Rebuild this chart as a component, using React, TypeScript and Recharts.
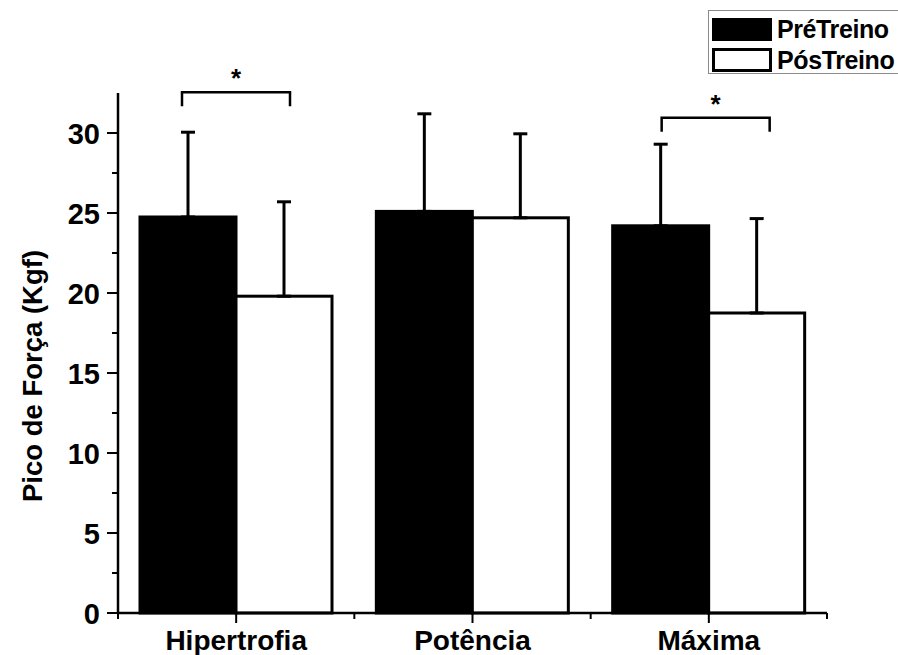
import React from 'react';
import { BarChart, Bar, XAxis, YAxis, ErrorBar, Legend, Label } from 'recharts';

const categories = ['Hipertrofia', 'Potência', 'Máxima'];
const seriesNames = ['PréTreino', 'PósTreino'];
const preValues = [24.75, 25.1, 24.2];
const postValues = [19.8, 24.7, 18.75];
const preErrors = [5.3, 6.1, 5.1];
const postErrors = [5.9, 5.25, 5.9];
const yTicks = [0, 2.5, 5, 7.5, 10, 12.5, 15, 17.5, 20, 22.5, 25, 27.5, 30];
const yMajorTicks = [0, 5, 10, 15, 20, 25, 30];
const yDomainMax = 32.5;
const yTitle = 'Pico de Força (Kgf)';

const bracketCategories = ['Hipertrofia', 'Máxima'];
const bracketValues = [32.55, 30.95];
const bracketLabels = ['*', '*'];
const bracketShift = [
  [-6, 6],
  [1, 13],
];

const FONT = "'Liberation Sans', Arial, Helvetica, sans-serif";

const data = categories.map((c, i) => ({
  category: c,
  pre: preValues[i],
  post: postValues[i],
  preErr: [0, preErrors[i]],
  postErr: [0, postErrors[i]],
}));

const PreShape = (p: any) => {
  const { x, y, width, height, payload } = p;
  const bi = bracketCategories.indexOf(payload.category);
  let bracket = null;
  if (bi >= 0 && payload.pre > 0) {
    const pxPerUnit = height / payload.pre;
    const base = y + height;
    const by = base - bracketValues[bi] * pxPerUnit;
    const x1 = x + width / 2 + bracketShift[bi][0];
    const x2 = x + width * 1.5 + bracketShift[bi][1];
    bracket = (
      <g>
        <path
          d={`M${x1},${by + 14} L${x1},${by} L${x2},${by} L${x2},${by + 14}`}
          fill="none"
          stroke="#000"
          strokeWidth={2.5}
        />
        <text
          x={(x1 + x2) / 2}
          y={by - 5}
          textAnchor="middle"
          fontFamily={FONT}
          fontWeight="bold"
          fontSize={26}
          fill="#000"
        >
          {bracketLabels[bi]}
        </text>
      </g>
    );
  }
  return (
    <g>
      <rect x={x} y={y} width={width} height={height} fill="#000" stroke="#000" strokeWidth={3} />
      {bracket}
    </g>
  );
};

const PostShape = (p: any) => {
  const { x, y, width, height } = p;
  return <rect x={x} y={y} width={width} height={height} fill="#fff" stroke="#000" strokeWidth={3} />;
};

const XTick = (p: any) => {
  const { x, y, payload, index } = p;
  const off = payload && typeof payload.offset === 'number' ? payload.offset : 0;
  const axisY = y - 12;
  return (
    <g>
      {off > 0 && (
        <line x1={x - off} y1={axisY} x2={x - off} y2={axisY + 6} stroke="#000" strokeWidth={2} />
      )}
      {off > 0 && index === categories.length - 1 && (
        <line x1={x + off} y1={axisY} x2={x + off} y2={axisY + 6} stroke="#000" strokeWidth={2} />
      )}
      <text
        x={x}
        y={axisY + 37}
        textAnchor="middle"
        fontFamily={FONT}
        fontWeight="bold"
        fontSize={28}
        fill="#000"
      >
        {payload.value}
      </text>
    </g>
  );
};

const YTick = (p: any) => {
  const { x, y, payload } = p;
  const major = yMajorTicks.indexOf(payload.value) >= 0;
  return (
    <g>
      <line x1={x - (major ? 11 : 6)} y1={y} x2={x} y2={y} stroke="#000" strokeWidth={2} />
      {major && (
        <text
          x={x - 18}
          y={y + 10.5}
          textAnchor="end"
          fontFamily={FONT}
          fontWeight="bold"
          fontSize={29}
          fill="#000"
        >
          {payload.value}
        </text>
      )}
    </g>
  );
};

const LegendContent = (props: any) => {
  const payload = props.payload || [];
  return (
    <div
      style={{
        boxSizing: 'border-box',
        width: 190,
        height: 64,
        border: '1px solid #8a8a8a',
        borderRight: 'none',
        paddingTop: 4,
        paddingLeft: 3,
        background: '#fff',
      }}
    >
      {payload.map((entry: any, i: number) => (
        <div key={i} style={{ display: 'flex', alignItems: 'center', height: 28, marginBottom: 3 }}>
          <div
            style={{
              boxSizing: 'border-box',
              width: 60,
              height: i === 0 ? 23 : 24,
              background: entry.color,
              border: '3px solid #000',
              flexShrink: 0,
            }}
          />
          <span
            style={{
              marginLeft: 5,
              fontFamily: FONT,
              fontWeight: 'bold',
              fontSize: 25,
              color: '#000',
              letterSpacing: -0.4,
              lineHeight: '28px',
              whiteSpace: 'nowrap',
            }}
          >
            {entry.value}
          </span>
        </div>
      ))}
    </div>
  );
};

const YTitle = (p: any) => {
  const vb = p.viewBox || { x: 0, y: 93, width: 118, height: 520 };
  const cx = 42;
  const cy = vb.y + vb.height / 2 + 23;
  return (
    <text
      x={cx}
      y={cy}
      transform={`rotate(-90, ${cx}, ${cy})`}
      textAnchor="middle"
      fontFamily={FONT}
      fontWeight="bold"
      fontSize={27.5}
      fill="#000"
    >
      {yTitle}
    </text>
  );
};

export default function App() {
  return (
    <div style={{ position: 'absolute', left: 0, top: 0, width: 898, height: 655, background: '#fff', overflow: 'hidden' }}>
      <BarChart
        width={898}
        height={655}
        data={data}
        margin={{ top: 93, right: 71, bottom: 0, left: 0 }}
        barGap={0}
        barCategoryGap={22}
      >
        <XAxis
          dataKey="category"
          height={42}
          axisLine={{ stroke: '#000', strokeWidth: 2.5 }}
          tickLine={{ stroke: '#000', strokeWidth: 2 }}
          tickSize={10}
          tickMargin={2}
          tick={<XTick />}
          interval={0}
        />
        <YAxis
          width={118}
          domain={[0, yDomainMax]}
          ticks={yTicks}
          interval={0}
          axisLine={{ stroke: '#000', strokeWidth: 2.5 }}
          tickLine={false}
          tickSize={0}
          tickMargin={0}
          tick={<YTick />}
        >
          <Label content={<YTitle />} />
        </YAxis>
        <Legend
          layout="vertical"
          align="center"
          verticalAlign="middle"
          content={<LegendContent />}
          wrapperStyle={{ position: 'absolute', left: 708, top: 10, width: 190 }}
        />
        <Bar
          dataKey="pre"
          name={seriesNames[0]}
          fill="#000"
          stroke="#000"
          shape={<PreShape />}
          isAnimationActive={false}
        >
          <ErrorBar dataKey="preErr" width={7} strokeWidth={3} stroke="#000" direction="y" isAnimationActive={false} />
        </Bar>
        <Bar
          dataKey="post"
          name={seriesNames[1]}
          fill="#fff"
          stroke="#000"
          shape={<PostShape />}
          isAnimationActive={false}
        >
          <ErrorBar dataKey="postErr" width={7} strokeWidth={3} stroke="#000" direction="y" isAnimationActive={false} />
        </Bar>
      </BarChart>
    </div>
  );
}
